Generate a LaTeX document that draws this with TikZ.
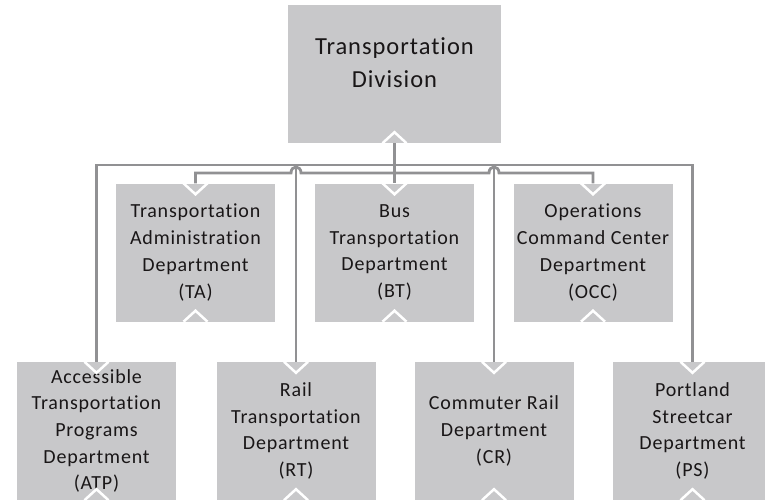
\documentclass[tikz,border=0pt]{standalone}
\usepackage{fontspec}
\setmainfont{Carlito}[LetterSpace=4, Ligatures=NoCommon]
\usepackage{xcolor}
\usepackage{tikz}
\usetikzlibrary{calc}
\definecolor{boxgray}{RGB}{200,200,202}
\definecolor{linkgray}{RGB}{145,145,147}
\definecolor{ink}{RGB}{25,22,23}

\begin{document}
\begin{tikzpicture}[
    x=1pt, y=-1pt,
    unit/.style={fill=boxgray, text=ink, inner sep=0pt, align=center,
      minimum width=159pt, minimum height=138pt,
      font=\fontsize{20}{26.7}\selectfont},
    link/.style={draw=linkgray, line width=2.8pt},
    notch/.style={draw=white, line width=2.5pt}
  ]
  \useasboundingbox (0,0) rectangle (765,501);
  % division
  \node[unit, minimum width=213pt] (td) at (394.5,74) {};
  \node[text=ink, align=center, font=\fontsize{24.5}{33}\selectfont]
    (tdlabel) at (394.5,63) {Transportation\\Division};
  % departments
  \node[unit] (ta)  at (195.5,252.5) {Transportation\\Administration\\Department\\(TA)};
  \node[unit] (bt)  at (394.5,252.5) {Bus\\Transportation\\Department\\(BT)};
  \node[unit] (occ) at (593,252.5)   {Operations\\Command Center\\Department\\(OCC)};
  \node[unit] (atp) at (96.5,431)  {Accessible\\Transportation\\Programs\\Department\\(ATP)};
  \node[unit] (rt)  at (296,431)   {Rail\\Transportation\\Department\\(RT)};
  \node[unit] (cr)  at (494,431)   {Commuter Rail\\Department\\(CR)};
  \node[unit] (ps)  at (692.5,431) {Portland\\Streetcar\\Department\\(PS)};

  \coordinate (outer) at (0,165);
  \coordinate (inner) at (0,173);
  \path[link]
    (td.south) -- (bt.north)
    (td.south) -- (td.south |- outer) -| (atp.north)
    (td.south |- outer) -| (rt.north)
    (td.south |- outer) -| (cr.north)
    (td.south |- outer) -| (ps.north);
  \path[link]
    (td.south |- inner) -- ($(rt.north |- inner)+(5,0)$)
      .. controls +(0,-8) and +(0,-8) .. ($(rt.north |- inner)+(-5,0)$)
      -| (ta.north)
    (td.south |- inner) -- ($(cr.north |- inner)+(-5,0)$)
      .. controls +(0,-8) and +(0,-8) .. ($(cr.north |- inner)+(5,0)$)
      -| (occ.north);

  \foreach \n in {ta,bt,occ,atp,rt,cr,ps}
    \draw[notch] ([xshift=-12pt]\n.north) -- ([yshift=-11pt]\n.north)
      -- ([xshift=12pt]\n.north);
  \foreach \n in {td,ta,bt,occ,atp,rt,cr,ps}
    \draw[notch] ([xshift=-12pt]\n.south) -- ([yshift=11pt]\n.south)
      -- ([xshift=12pt]\n.south);
\end{tikzpicture}
\end{document}
